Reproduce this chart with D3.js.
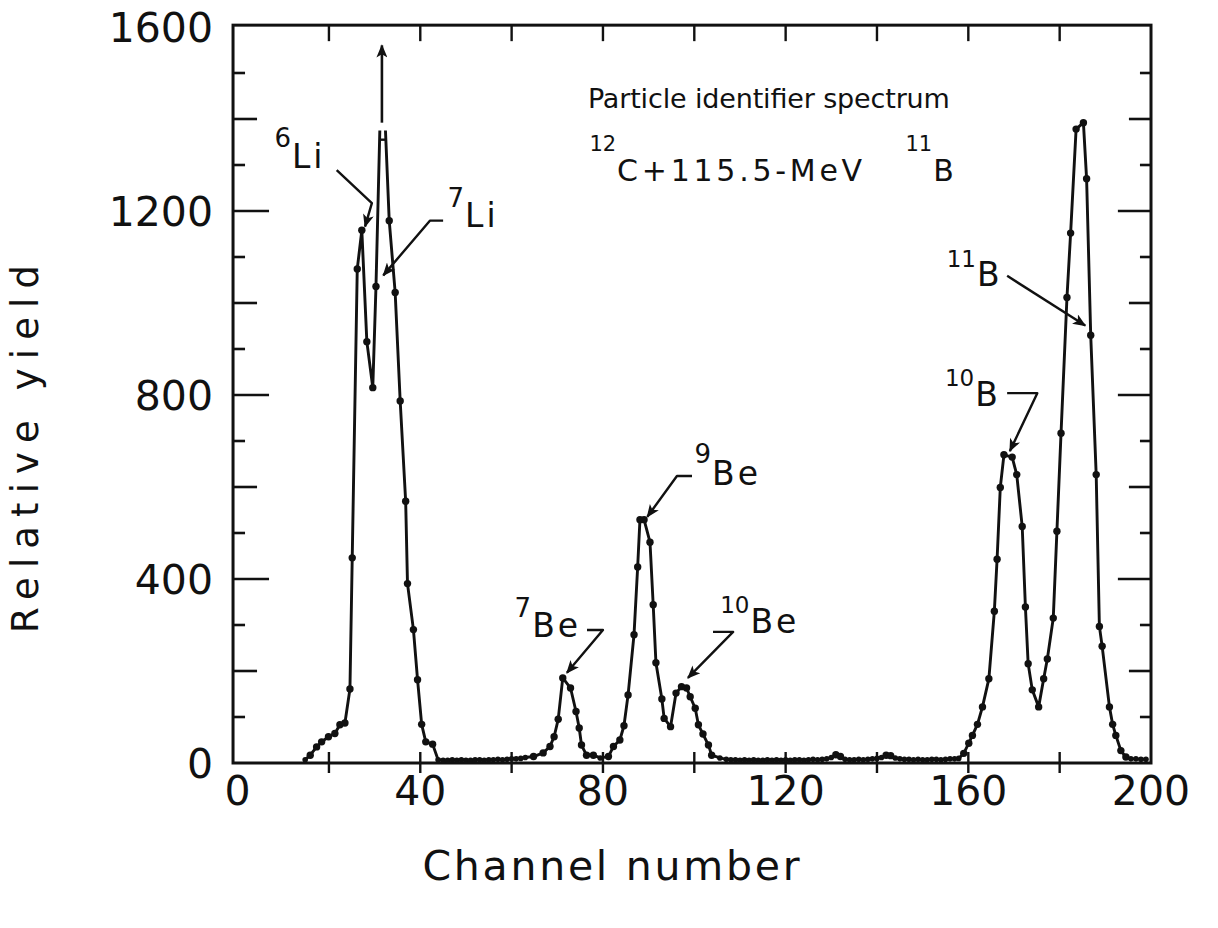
<!DOCTYPE html>
<html>
<head>
<meta charset="utf-8">
<script src="https://cdn.jsdelivr.net/npm/d3@7"></script>
<style>
  html, body { margin: 0; padding: 0; background: #fff; }
  svg { display: block; }
  text { font-family: "DejaVu Sans", sans-serif; fill: #111; }
</style>
</head>
<body>
<svg id="chart" width="1218" height="928"></svg>
<script>
// Particle-identifier spectrum, 12C + 115.5-MeV 11B
const channel = [
  14.8, 15.9, 17.3, 18.4, 19.9, 21.3, 22.4, 23.5, 24.6, 25.1, 26.2, 27.2, 28.3, 29.6, 30.3, 31.6,
  33.2, 34.5, 35.6, 36.8, 37.2, 38.5, 39.4, 40.3, 41.2, 42.7, 43.9,
  45, 46, 47, 48, 49, 50, 51, 52, 53, 54, 55, 56, 57, 58, 59, 60, 61, 62, 63,
  64.8, 66.9, 68.4, 69.3, 70.2, 71.2, 72.9, 74.1, 74.8, 75.3, 76.4, 77.9, 79.4, 81.2, 82.3, 83.7,
  84.6, 85.5, 86.8, 87.6, 88.1, 89.0, 90.3, 91.0, 91.6, 92.9, 93.4, 94.8, 96.0, 97.2, 98.3, 99.1,
  100.2, 100.9, 101.9, 103.1, 103.8, 105.6,
  107, 108, 109, 110, 111, 112, 113, 114, 115, 116, 117, 118, 119, 120, 121, 122, 123, 124, 125,
  126, 127, 128, 129, 130, 131, 132, 133, 134, 135, 136, 137, 138, 139, 140, 141, 142, 143, 144,
  145, 146, 147, 148, 149, 150, 151, 152, 153, 154, 155, 156, 157,
  157.9, 159.0, 160.1, 160.9, 162.0, 163.1, 164.5, 165.7, 166.3, 167.0, 167.8, 169.6, 170.6, 171.8,
  172.5, 173.1, 174.0, 175.4, 176.5, 177.3, 178.6, 179.4, 180.3, 181.6, 182.4, 183.6, 185.2, 185.9,
  186.8, 188.0, 188.7, 189.3, 190.9, 191.6, 192.3, 193.4, 194.5, 195.6, 196.7, 197.8, 198.9
];
const relativeYield = [
  7, 17, 35, 46, 57, 64, 83, 87, 161, 446, 1074, 1158, 916, 816, 1036, 1560,
  1179, 1023, 787, 569, 390, 290, 181, 84, 46, 41, 7,
  6, 6, 7, 6, 7, 6, 6, 7, 7, 6, 7, 7, 8, 7, 8, 9, 9, 10, 12,
  14, 22, 36, 57, 95, 185, 163, 112, 76, 39, 17, 17, 11, 14, 36, 50,
  81, 148, 279, 426, 529, 529, 480, 344, 218, 139, 97, 79, 152, 166, 163, 144,
  119, 83, 63, 39, 17, 11,
  8, 7, 7, 6, 7, 6, 7, 6, 6, 7, 6, 7, 6, 7, 6, 7, 7, 6, 7,
  8, 7, 8, 9, 12, 18, 14, 8, 7, 7, 8, 7, 8, 9, 10, 12, 17, 16, 11,
  9, 8, 8, 7, 8, 7, 7, 8, 8, 7, 8, 9, 9,
  10, 21, 43, 60, 84, 122, 183, 330, 443, 599, 670, 665, 627, 514,
  339, 216, 159, 122, 183, 226, 315, 504, 717, 1012, 1152, 1378, 1392, 1270,
  930, 627, 297, 254, 122, 84, 60, 27, 13, 9, 9, 8, 8
];

const xTickValues = [20, 40, 60, 80, 100, 120, 140, 160, 180];
const xTickLabels = [0, 40, 80, 120, 160, 200];
const yTickValues = [100, 200, 300, 400, 500, 600, 700, 800, 900, 1000, 1100, 1200, 1300, 1400, 1500];
const yTickLabels = [0, 400, 800, 1200, 1600];

// peaks above the full-scale level are broken off and marked with an arrow
const fullScale = 1450;
const breakTop = 1375;
const breakBar = 1355;
const arrowBase = 1392;

// isotope labels: element text anchored at (channel, yield), mass number raised to supLevel,
// leader arrow as a polyline in (channel, yield)
const isotopeLabels = [
  { mass: "6",  elem: "Li", at: [11.9, 1293],  supLevel: 1339, arrow: [[21.7, 1289], [29.4, 1217], [27.9, 1166]] },
  { mass: "7",  elem: "Li", at: [49.8, 1165],  supLevel: 1209, arrow: [[45.0, 1179], [42.1, 1179], [31.9, 1060]] },
  { mass: "7",  elem: "Be", at: [64.5, 274],   supLevel: 317,  arrow: [[76.5, 289], [80.0, 289], [72.1, 196]] },
  { mass: "9",  elem: "Be", at: [103.9, 604],  supLevel: 652,  arrow: [[99.5, 624], [96.2, 624], [89.7, 535]] },
  { mass: "10", elem: "Be", at: [112.3, 283],  supLevel: 326,  arrow: [[104.1, 285], [108.5, 285], [98.6, 185]] },
  { mass: "10", elem: "B",  at: [161.5, 776],  supLevel: 820,  arrow: [[168.5, 804], [175.1, 804], [169.1, 678]] },
  { mass: "11", elem: "B",  at: [161.9, 1037], supLevel: 1078, arrow: [[168.5, 1059], [185.6, 951]] }
];

(function draw() {
  const svg = d3.select("#chart");
  const x = d3.scaleLinear().domain([0, 200]).range([237.6, 1151]);
  const y = d3.scaleLinear().domain([0, 1600]).range([763, 27]);
  const ink = "#111";

  svg.append("defs").append("marker")
    .attr("id", "head")
    .attr("viewBox", "0 0 12 10")
    .attr("refX", 11).attr("refY", 5)
    .attr("markerWidth", 15).attr("markerHeight", 11)
    .attr("markerUnits", "userSpaceOnUse")
    .attr("orient", "auto")
    .append("path")
    .attr("d", "M0,0 L12,5 L0,10 L3,5 Z")
    .attr("fill", ink);

  // frame
  const fL = x(-1), fR = x(200), fT = y(1604), fB = y(0);
  svg.append("rect")
    .attr("x", fL).attr("y", fT)
    .attr("width", fR - fL).attr("height", fB - fT)
    .attr("fill", "none").attr("stroke", ink).attr("stroke-width", 3);

  // y ticks on both sides, pointing inward
  const tickLen = v => v % 400 === 0 ? 36 : (v % 200 === 0 ? 24 : 12);
  const yt = svg.append("g").attr("stroke", ink).attr("stroke-width", 2.6);
  yt.selectAll("line.l").data(yTickValues).join("line").attr("class", "l")
    .attr("x1", fL).attr("x2", d => fL + tickLen(d))
    .attr("y1", d => y(d)).attr("y2", d => y(d));
  yt.selectAll("line.r").data(yTickValues).join("line").attr("class", "r")
    .attr("x1", fR).attr("x2", d => fR - tickLen(d) * 0.92)
    .attr("y1", d => y(d)).attr("y2", d => y(d));

  // x ticks: crossing the bottom axis, hanging from the top axis
  const xt = svg.append("g").attr("stroke", ink).attr("stroke-width", 2.4);
  xt.selectAll("line.b").data(xTickValues).join("line").attr("class", "b")
    .attr("x1", d => x(d)).attr("x2", d => x(d))
    .attr("y1", fB - 11).attr("y2", fB + 10);
  xt.selectAll("line.t").data(xTickValues).join("line").attr("class", "t")
    .attr("x1", d => x(d)).attr("x2", d => x(d))
    .attr("y1", fT).attr("y2", fT + 16);

  // tick labels
  svg.append("g").selectAll("text").data(yTickLabels).join("text")
    .attr("x", fL - 20).attr("y", d => y(d)).attr("dy", "0.36em")
    .attr("text-anchor", "end").attr("font-size", 41)
    .text(d => d);
  svg.append("g").selectAll("text").data(xTickLabels).join("text")
    .attr("x", d => x(d)).attr("y", fB + 27).attr("dy", "0.36em")
    .attr("text-anchor", "middle").attr("font-size", 41)
    .text(d => d);

  // axis titles
  svg.append("text")
    .attr("x", 611).attr("y", fB + 117)
    .attr("text-anchor", "middle").attr("font-size", 41)
    .attr("textLength", 377).attr("lengthAdjust", "spacing")
    .text("Channel number");
  svg.append("text")
    .attr("transform", `translate(${fL - 195},${(fT + fB) / 2 + 55}) rotate(-90)`)
    .attr("text-anchor", "middle").attr("font-size", 37)
    .attr("textLength", 368).attr("lengthAdjust", "spacing")
    .text("Relative yield");

  // spectrum line, broken where a peak runs off scale
  const pts = channel.map((c, i) => ({ c, v: relativeYield[i] }));
  const segments = [];
  const breaks = [];
  let cur = [];
  const at = (lvl, p0, p1) => p0.c + (p1.c - p0.c) * (lvl - p0.v) / (p1.v - p0.v);
  pts.forEach((p, i) => {
    if (p.v > fullScale) {
      const a = pts[i - 1], b = pts[i + 1];
      cur.push({ c: at(breakTop, a, p), v: breakTop });
      segments.push(cur);
      cur = [{ c: at(breakTop, p, b), v: breakTop }];
      breaks.push({ peak: p, barL: at(breakBar, a, p), barR: at(breakBar, p, b) });
    } else {
      cur.push(p);
    }
  });
  segments.push(cur);

  const line = d3.line().x(d => x(d.c)).y(d => y(d.v));
  svg.append("g").selectAll("path").data(segments).join("path")
    .attr("d", line)
    .attr("fill", "none").attr("stroke", ink)
    .attr("stroke-width", 2.9).attr("stroke-linejoin", "round");

  breaks.forEach(b => {
    svg.append("line")
      .attr("x1", x(b.barL)).attr("x2", x(b.barR))
      .attr("y1", y(breakBar)).attr("y2", y(breakBar))
      .attr("stroke", ink).attr("stroke-width", 2.4);
    svg.append("line")
      .attr("x1", x(b.peak.c)).attr("x2", x(b.peak.c))
      .attr("y1", y(arrowBase)).attr("y2", y(b.peak.v))
      .attr("stroke", ink).attr("stroke-width", 2.6)
      .attr("marker-end", "url(#head)");
  });

  // data points
  svg.append("g").selectAll("circle").data(pts.filter(p => p.v <= fullScale)).join("circle")
    .attr("cx", d => x(d.c)).attr("cy", d => y(d.v))
    .attr("r", d => d.v <= 12 ? 2.8 : 3.7)
    .attr("fill", ink);

  // isotope labels with leader arrows
  const lab = svg.append("g");
  isotopeLabels.forEach(L => {
    const ex = x(L.at[0]);
    lab.append("text")
      .attr("x", ex - 1).attr("y", y(L.supLevel))
      .attr("text-anchor", "end")
      .attr("font-size", L.mass.length > 1 ? 23 : 26).text(L.mass);
    lab.append("text")
      .attr("x", ex).attr("y", y(L.at[1]))
      .attr("font-size", 33).attr("letter-spacing", 3).text(L.elem);
    lab.append("path")
      .attr("d", d3.line().x(d => x(d[0])).y(d => y(d[1]))(L.arrow))
      .attr("fill", "none").attr("stroke", ink).attr("stroke-width", 2.4)
      .attr("stroke-linejoin", "round")
      .attr("marker-end", "url(#head)");
  });

  // reaction caption
  const cap = svg.append("g");
  cap.append("text")
    .attr("x", x(76.7)).attr("y", y(1424))
    .attr("font-size", 27).attr("textLength", 362).attr("lengthAdjust", "spacing")
    .text("Particle identifier spectrum");
  cap.append("text").attr("x", x(83.1) - 1).attr("y", y(1330))
    .attr("text-anchor", "end").attr("font-size", 21).text("12");
  cap.append("text")
    .attr("x", x(83.1)).attr("y", y(1265))
    .attr("font-size", 30).attr("textLength", 245).attr("lengthAdjust", "spacing")
    .text("C+115.5-MeV");
  cap.append("text").attr("x", x(152.3) - 1).attr("y", y(1330))
    .attr("text-anchor", "end").attr("font-size", 21).text("11");
  cap.append("text").attr("x", x(152.3)).attr("y", y(1265)).attr("font-size", 30).text("B");
})();
</script>
</body>
</html>
